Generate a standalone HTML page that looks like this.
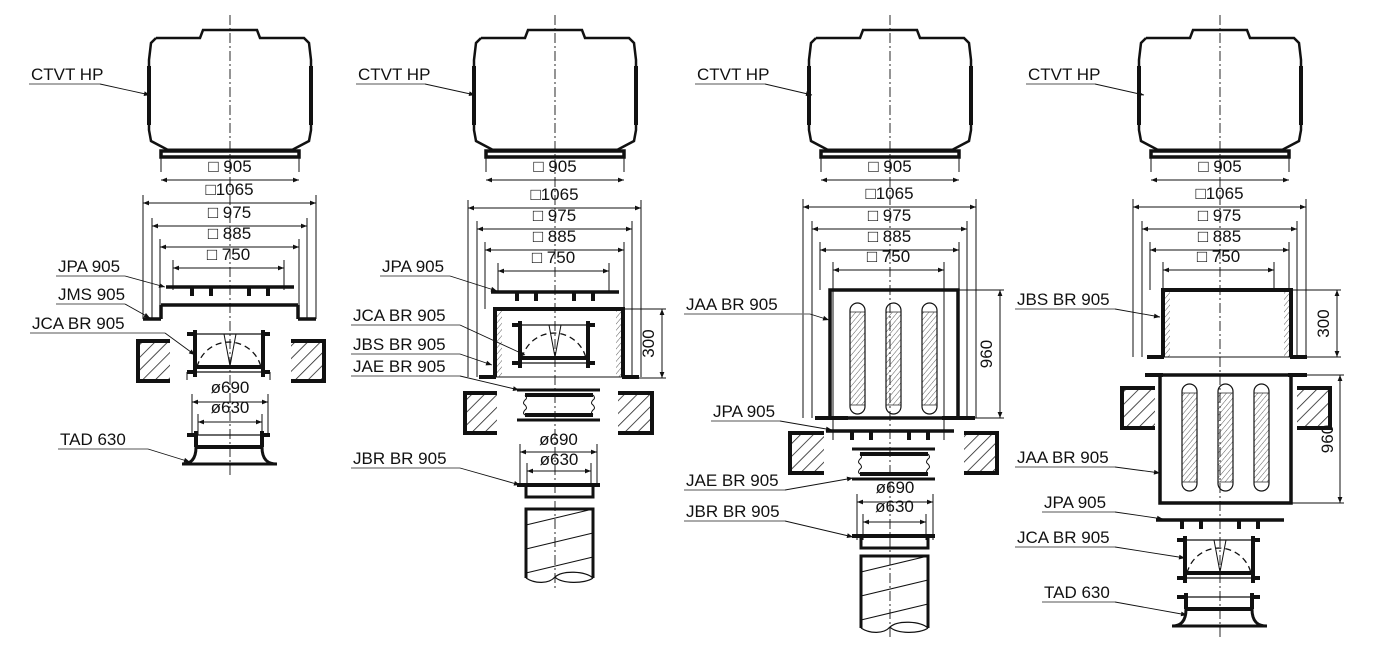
<!DOCTYPE html>
<html><head><meta charset="utf-8"><style>
html,body{margin:0;padding:0;background:#fff}
svg{display:block}
text{font-family:"Liberation Sans",Arial,sans-serif;fill:#111}
</style></head><body>
<svg id="s" width="1377" height="656" viewBox="0 0 1377 656" xmlns="http://www.w3.org/2000/svg">
<defs>
<pattern id="h" width="9" height="9" patternUnits="userSpaceOnUse" patternTransform="rotate(45)"><line x1="0" y1="0" x2="0" y2="9" stroke="#222" stroke-width="1.6"/></pattern>
<pattern id="hf" width="4" height="4" patternUnits="userSpaceOnUse" patternTransform="rotate(40)"><line x1="0" y1="0" x2="0" y2="4" stroke="#333" stroke-width="0.8"/></pattern>
<marker id="a" viewBox="0 0 10 10" refX="10" refY="5" markerWidth="9" markerHeight="6" orient="auto-start-reverse" markerUnits="userSpaceOnUse"><path d="M0,1 L10,5 L0,9z" fill="#111"/></marker>
</defs>
<g id="g" fill="none" stroke="#111"></g>
</svg>
<script>
var G=document.getElementById('g'),o='';
function L(x1,y1,x2,y2,w,extra){o+='<line x1="'+x1+'" y1="'+y1+'" x2="'+x2+'" y2="'+y2+'" stroke-width="'+(w||1)+'" '+(extra||'')+'/>';}
function P(d,w,extra){o+='<path d="'+d+'" stroke-width="'+(w||1)+'" '+(extra||'')+'/>';}
function T(x,y,s,anchor,size,rot){o+='<text x="'+x+'" y="'+y+'" font-size="'+(size||17)+'" stroke="none" '+(anchor?'text-anchor="'+anchor+'"':'')+(rot?' transform="rotate(-90 '+x+' '+y+')"':'')+'>'+s+'</text>';}
function dim(y,x1,x2,lab,ty,ye){L(x1,y,x2,y,1,'marker-start="url(#a)" marker-end="url(#a)"');L(x1,y-8,x1,ye,1);L(x2,y-8,x2,ye,1);T((x1+x2)/2,ty,lab,'middle',17);}
function vdim(x,y1,y2,lab,bx,tx){L(x,y1,x,y2,1,'marker-start="url(#a)" marker-end="url(#a)"');L(bx,y1,x+4,y1,1);L(bx,y2,x+4,y2,1);T(tx||x-8,(y1+y2)/2,lab,'middle',17,1);}
function label(x,y,s,ux,tx,ty){T(x,y,s,null,17);L(x-2,y+4,ux,y+4,1.2,'stroke="#777"');L(ux,y+4,tx,ty,0.9,'marker-end="url(#a)"');}
function fan(c){P('M'+(c-74)+',38 L'+(c-30)+',38 L'+(c-27)+',30 L'+(c+27)+',30 L'+(c+30)+',38 L'+(c+74)+',38 L'+(c+79)+',43 L'+(c+81)+',60 L'+(c+81)+',130 L'+(c+79)+',141 L'+(c+62)+',150',2.5);
P('M'+(c-74)+',38 L'+(c-79)+',43 L'+(c-81)+',60 L'+(c-81)+',130 L'+(c-79)+',141 L'+(c-62)+',150',2.5);
L(c-81,66,c-81,125,4);L(c+81,66,c+81,125,4);
o+='<rect x="'+(c-69)+'" y="151" width="138" height="6" stroke-width="3.5"/>';L(c-62,150,c+62,150,3);
dim(180,c-69,c+69,'□ 905',172,150);}
function dims(c,a,b){var ys=a;dim(ys[0],c-87,c+86,'□1065',ys[0]-8,b[0]);dim(ys[1],c-78,c+77,'□ 975',ys[1]-8,b[1]);dim(ys[2],c-70,c+69,'□ 885',ys[2]-8,b[2]);dim(ys[3],c-57,c+54,'□ 750',ys[3]-8,b[3]);}
function jpa(c,y){L(c-64,y,c+64,y,3.5);[-38,-19,19,38].forEach(function(d){L(c+d,y,c+d,y+9,4);});}
function wall(x,y,w,h,side){o+='<rect x="'+x+'" y="'+y+'" width="'+w+'" height="'+h+'" fill="url(#h)" stroke="none"/>';
 if(side=='l')P('M'+x+','+y+' L'+(x+w)+','+y+' L'+(x+w)+','+(y+h)+' L'+x+','+(y+h),4);else P('M'+(x+w)+','+y+' L'+x+','+y+' L'+x+','+(y+h)+' L'+(x+w)+','+(y+h),4);}
function jca(c,y1,y2){L(c-43,y1,c+40,y1,1.2);L(c-43,y2,c+40,y2,1.2);[y1,y2].forEach(function(y){L(c-43,y,c-34,y,4);L(c+31,y,c+40,y,4);});
L(c-35,y1-4,c-35,y2+5,4);L(c+33,y1-4,c+33,y2+5,4);L(c-35,y2-5,c+33,y2-5,4);
P('M'+(c-33)+','+(y2-5)+' A33,33 0 0 1 '+(c+31)+','+(y2-5),1.3,'stroke-dasharray="6,4"');
P('M'+(c-6)+','+(y1)+' L'+c+','+(y2-6)+' L'+(c+6)+','+y1,1);L(c-9,y1,c-3,y1,1);L(c+3,y1,c+9,y1,1);}
function tad(c,y){L(c-43,y,c+40,y,1.2);L(c-43,y,c-34,y,4);L(c+31,y,c+40,y,4);L(c-34,y-4,c-34,y+12,4);L(c+32,y-4,c+32,y+12,4);L(c-34,y+12,c+32,y+12,4);
P('M'+(c-34)+','+(y+12)+' C'+(c-34)+','+(y+25)+' '+(c-40)+','+(y+29)+' '+(c-48)+','+(y+29)+' L'+(c+47)+','+(y+29)+' C'+(c+38)+','+(y+29)+' '+(c+32)+','+(y+25)+' '+(c+32)+','+(y+12),3);}
function jbs(c,yt,yb,hl,hr){o+='<rect x="'+(hl)+'" y="'+yt+'" width="6" height="'+(yb-yt)+'" fill="url(#hf)" stroke="none"/><rect x="'+(hr-6)+'" y="'+yt+'" width="6" height="'+(yb-yt)+'" fill="url(#hf)" stroke="none"/>';
P('M'+(hl-1)+','+yb+' L'+(hl-1)+','+yt+' L'+(hr+1)+','+yt+' L'+(hr+1)+','+yb,4);L(hl,yb,hr,yb,1);L(hl-17,yb,hl,yb,4);L(hr,yb,hr+17,yb,4);}
function jae(c,y){L(c-38,y,c+45,y,3);L(c-30,y+5,c+38,y+5,4);L(c-30,y+25,c+38,y+25,4);L(c-38,y+30,c+45,y+30,3);
[c-30,c+38].forEach(function(x){P('M'+x+','+(y+5)+' q3,3 0,5 q-3,3 0,5 q3,3 0,5 q-3,3 0,5',1);});}
function jbr(c,y){L(c-38,y,c+45,y,4);L(c-29,y,c+38,y,1);P('M'+(c-29)+','+y+' L'+(c-29)+','+(y+12)+' L'+(c+38)+','+(y+12)+' L'+(c+38)+','+y,3);}
function duct(c,y1,y2){P('M'+(c-29)+','+y2+' L'+(c-29)+','+y1+' L'+(c+38)+','+y1+' L'+(c+38)+','+y2,3);
P('M'+(c-29)+','+y2+' C'+(c-20)+','+(y2+6)+' '+(c-6)+','+(y2+6)+' '+c+','+(y2-1)+' C'+(c+8)+','+(y2-8)+' '+(c+30)+','+(y2-7)+' '+(c+38)+','+y2,1.2);
P('M'+c+','+(y2-1)+' C'+(c+6)+','+(y2+6)+' '+(c+30)+','+(y2+6)+' '+(c+38)+','+y2,1.2);
for(var k=0;k<3;k++){var yy=y1+6+k*24;L(c-29,yy+10,c+38,yy-6,1);}}
function jaa(c,x1,x2,yt,yb,slots,sy1,sy2){P('M'+x1+','+yb+' L'+x1+','+yt+' L'+x2+','+yt+' L'+x2+','+yb+' Z',3.5);
slots.forEach(function(x){o+='<rect x="'+x+'" y="'+(sy1+9)+'" width="15" height="'+(sy2-sy1-18)+'" fill="url(#hf)" stroke="#333" stroke-width="0.8"/>';o+='<rect x="'+x+'" y="'+sy1+'" width="15" height="'+(sy2-sy1)+'" rx="7.5" stroke-width="1.2"/>';});}
function cl(c,y1,y2){L(c,y1,c,y2,0.9,'stroke-dasharray="10,3,2,3"');}

var c=230;cl(c,15,478);fan(c);dims(c,[203,226,247,268],[319,319,305,290]);
jpa(c,287);L(c-69,305,c+68,305,3.5);L(c-69,305,c-69,319,3.5);L(c+68,305,c+68,319,3.5);L(c-87,319,c-69,319,3.5);L(c+68,319,c+86,319,3.5);
wall(138,341,32,40,'r');wall(291,341,33,40,'l');
jca(c,334,372);L(c-43,372,c-43,380,1);L(c+40,372,c+40,380,1);
dim(402,c-38,c+38,'ø690',393,435);dim(422,c-32,c+32,'ø630',413,435);tad(c,435);
label(31,80,'CTVT HP',100,150,95);label(58,272,'JPA 905',125,165,287);label(58,300,'JMS 905',125,150,318);label(32,329,'JCA BR 905',165,195,355);label(60,445,'TAD 630',148,190,462);
c=555;cl(c,15,590);fan(c);dims(c,[208,229,250,271],[377,377,309,292]);
jpa(c,292);jbs(c,309,377,496,622);vdim(662,309,378,'300',623);
jca(c,325,363);wall(465,393,32,40,'r');wall(618,393,34,40,'l');jae(c,390);
dim(452,c-35,c+42,'ø690',445,485);dim(471,c-28,c+36,'ø630',465,485);jbr(c,485);duct(c,509,578);
label(358,80,'CTVT HP',425,475,95);label(382,272,'JPA 905',450,497,291);label(353,321,'JCA BR 905',460,525,355);label(353,350,'JBS BR 905',460,492,365);label(353,372,'JAE BR 905',460,519,390);label(353,464,'JBR BR 905',460,520,485);
c=890;cl(c,15,640);fan(c);dims(c,[207,229,250,270],[418,418,290,440]);
jaa(c,830,958,290,418,[850,886,922],303,414);L(815,418,848,418,4);L(942,418,975,418,4);vdim(1000,290,418,'960',958);
jpa(c,431);wall(790,433,34,40,'r');wall(964,433,33,40,'l');jae(c,449);
dim(502,c-33,c+43,'ø690',493,540);dim(522,c-27,c+36,'ø630',512,540);jbr(c,536);duct(c,556,628);
label(697,80,'CTVT HP',765,812,95);label(686,310,'JAA BR 905',810,829,320);label(713,417,'JPA 905',780,832,430);label(686,486,'JAE BR 905',785,853,478);label(686,517,'JBR BR 905',785,853,537);
c=1220;cl(c,15,640);fan(c);dims(c,[207,229,250,270],[357,357,290,290]);
jbs(c,290,357,1164,1290);vdim(1337,290,357,'300',1292);
jaa(c,1160,1291,375,503,[1182,1218,1254],384,491);L(1145,375,1163,375,4);L(1288,375,1307,375,4);vdim(1340,375,503,'960',1292,1333);
wall(1122,388,33,40,'r');wall(1297,388,33,40,'l');
jpa(c,520);jca(c,540,578);tad(c,597);
label(1028,80,'CTVT HP',1095,1144,95);label(1017,305,'JBS BR 905',1115,1160,317);label(1017,463,'JAA BR 905',1115,1160,473);label(1044,508,'JPA 905',1115,1163,519);label(1017,543,'JCA BR 905',1115,1185,558);label(1044,598,'TAD 630',1115,1187,615);
G.innerHTML=o;
</script>
</body></html>
